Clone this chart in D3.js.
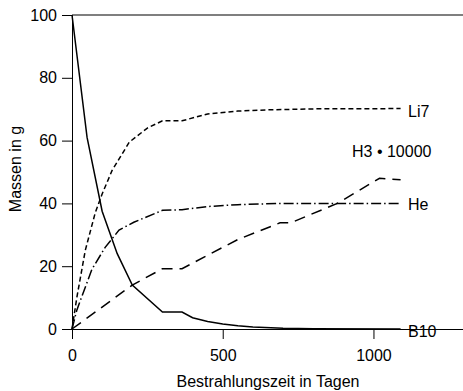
<!DOCTYPE html>
<html>
<head>
<meta charset="utf-8">
<script src="https://cdn.jsdelivr.net/npm/d3@7"></script>
<style>
body { margin: 0; background: #fff; }
text { font-family: "Liberation Sans", Arial, sans-serif; fill: #000; }
</style>
</head>
<body>
<div id="box1"></div>
<script>
// days of irradiation and masses in g
var b10Days = [0, 50, 100, 150, 200, 300, 365, 400, 450, 500, 550, 600, 700, 800, 1090];
var b10Mass = [100, 61, 37.5, 24, 14, 5.4, 5.4, 3.6, 2.4, 1.6, 1.0, 0.6, 0.2, 0.05, 0];
var li7Days = [0, 16, 44, 77, 100, 133, 190, 250, 300, 365, 450, 550, 650, 800, 1090];
var li7Mass = [0, 10, 25, 37, 43, 50.5, 59.5, 64, 66.3, 66.3, 68.5, 69.4, 69.8, 70.1, 70.2];
var heDays = [0, 16, 66, 110, 156, 205, 300, 365, 450, 550, 700, 1090];
var heMass = [0, 6, 19, 26, 31.5, 34, 37.8, 38, 39, 39.6, 40, 40];
var h3Days = [0, 100, 200, 300, 365, 450, 550, 690, 725, 880, 1020, 1090];
var h3Mass = [0, 7, 14, 19.2, 19.2, 23.5, 28.5, 33.8, 33.8, 40, 48, 47.5];
var xTicks = [0, 500, 1000];
var yTicks = [0, 20, 40, 60, 80, 100];

document.addEventListener("DOMContentLoaded", function(e) {
    chart1();
});

function chart1(){
    var width = 463;
    var height = 391;
    var svg = d3.select("#box1")
        .append("svg")
        .attr("width", width)
        .attr("height", height);

    var x = d3.scaleLinear().domain([0, 1297]).range([72, 463]);
    var y = d3.scaleLinear().domain([0, 100]).range([329, 15]);

    // axes
    svg.append("g")
        .attr("transform", "translate(0," + y(0) + ")")
        .call(d3.axisBottom(x).tickValues(xTicks).tickFormat(d3.format("d"))
            .tickSize(10).tickSizeOuter(0).tickPadding(11));
    svg.append("g")
        .attr("transform", "translate(" + x(0) + ",0)")
        .call(d3.axisLeft(y).tickValues(yTicks).tickSize(10).tickSizeOuter(0).tickPadding(5));
    svg.selectAll(".tick text").attr("font-size", 16).attr("font-family", "Liberation Sans, Arial, sans-serif");
    svg.selectAll(".domain, .tick line").attr("stroke", "#000");

    // top frame line
    svg.append("line")
        .attr("x1", x(0)).attr("x2", width)
        .attr("y1", y(100)).attr("y2", y(100))
        .attr("stroke", "#000").attr("stroke-width", 1.2);

    var line = d3.line()
        .x(function(d){ return x(d[0]); })
        .y(function(d){ return y(d[1]); });

    var series = [
        {days: b10Days, mass: b10Mass, dash: null},
        {days: li7Days, mass: li7Mass, dash: "5,3"},
        {days: heDays, mass: heMass, dash: "10,3,1.5,3"},
        {days: h3Days, mass: h3Mass, dash: "11,7"}
    ];
    for (var i = 0; i < series.length; i++){
        var pts = d3.zip(series[i].days, series[i].mass);
        svg.append("path")
            .attr("d", line(pts))
            .attr("fill", "none")
            .attr("stroke", "#000")
            .attr("stroke-width", 1.5)
            .attr("stroke-dasharray", series[i].dash);
    }

    // series labels
    svg.append("text").attr("x", 408).attr("y", 117).attr("font-size", 16).text("Li7");
    svg.append("text").attr("x", 352).attr("y", 157).attr("font-size", 16).text("H3 \u2022 10000");
    svg.append("text").attr("x", 408).attr("y", 210).attr("font-size", 16).text("He");
    svg.append("text").attr("x", 408).attr("y", 337).attr("font-size", 16).text("B10");

    // axis titles
    svg.append("text")
        .attr("x", 268).attr("y", 387)
        .attr("text-anchor", "middle")
        .attr("font-size", 16)
        .text("Bestrahlungszeit in Tagen");
    svg.append("text")
        .attr("transform", "translate(21,169) rotate(-90)")
        .attr("text-anchor", "middle")
        .attr("font-size", 16)
        .text("Massen in g");
}
</script>
</body>
</html>
